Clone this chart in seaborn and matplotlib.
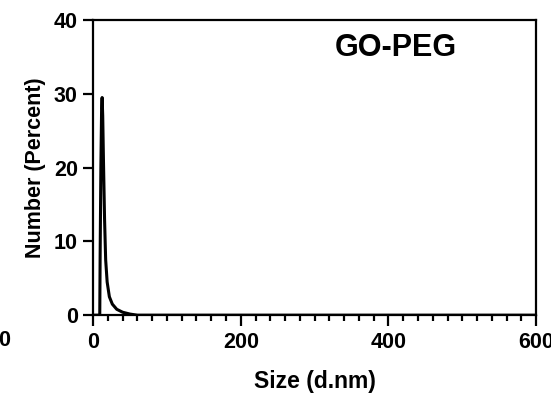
import seaborn as sns
import matplotlib.pyplot as plt
import pandas as pd
from matplotlib.ticker import MultipleLocator

# ===================== DATA =====================
size_nm = [0, 9.0, 9.5, 10.5, 11.5, 12.2, 13.0, 14.0, 15.5, 17.0, 19.0,
           22.0, 26.0, 32.0, 40.0, 50.0, 60.0, 600]
number_pct = [0, 0, 8.0, 20.0, 28.0, 29.5, 27.0, 21.0, 13.0, 7.5, 4.5,
              2.5, 1.5, 0.8, 0.4, 0.15, 0, 0]
sample_label = "GO-PEG"

df = pd.DataFrame({"Size": size_nm, "Number": number_pct})

# ===================== STYLE =====================
sns.set_style("ticks")
plt.rcParams["font.family"] = ["Liberation Sans", "DejaVu Sans"]
plt.rcParams["font.weight"] = "bold"
plt.rcParams["text.color"] = "black"
plt.rcParams["axes.labelcolor"] = "black"
plt.rcParams["xtick.color"] = "black"
plt.rcParams["ytick.color"] = "black"

fig = plt.figure(figsize=(5.51, 3.93), dpi=100)
ax = fig.add_axes([0.169, 0.198, 0.804, 0.751])

sns.lineplot(data=df, x="Size", y="Number", color="black", linewidth=2.2, ax=ax)

ax.set_xlim(0, 600)
ax.set_ylim(0, 40)
ax.xaxis.set_major_locator(MultipleLocator(200))
ax.xaxis.set_minor_locator(MultipleLocator(20))
ax.yaxis.set_major_locator(MultipleLocator(10))

for side in ["left", "right", "top", "bottom"]:
    ax.spines[side].set_visible(True)
    ax.spines[side].set_linewidth(1.6)
    ax.spines[side].set_color("black")

ax.tick_params(axis="both", which="major", length=7, width=1.6,
               labelsize=15.5, pad=4)
ax.tick_params(axis="x", which="minor", length=4.5, width=1.6)
ax.tick_params(axis="x", which="major", length=8)

ax.set_xlabel("Size (d.nm)", fontsize=16.5, fontweight="bold", labelpad=12)
ax.set_ylabel("Number (Percent)", fontsize=15.5, fontweight="bold", labelpad=6)

ax.text(0.82, 0.905, sample_label, transform=ax.transAxes, ha="right", va="center",
        fontsize=22, fontweight="bold")

# cropped label from neighbouring panel
fig.text(10 / 551, 1 - 340 / 393, "0", ha="right", va="center",
         fontsize=15.5, fontweight="bold")

fig.savefig("out.png", dpi=100)
